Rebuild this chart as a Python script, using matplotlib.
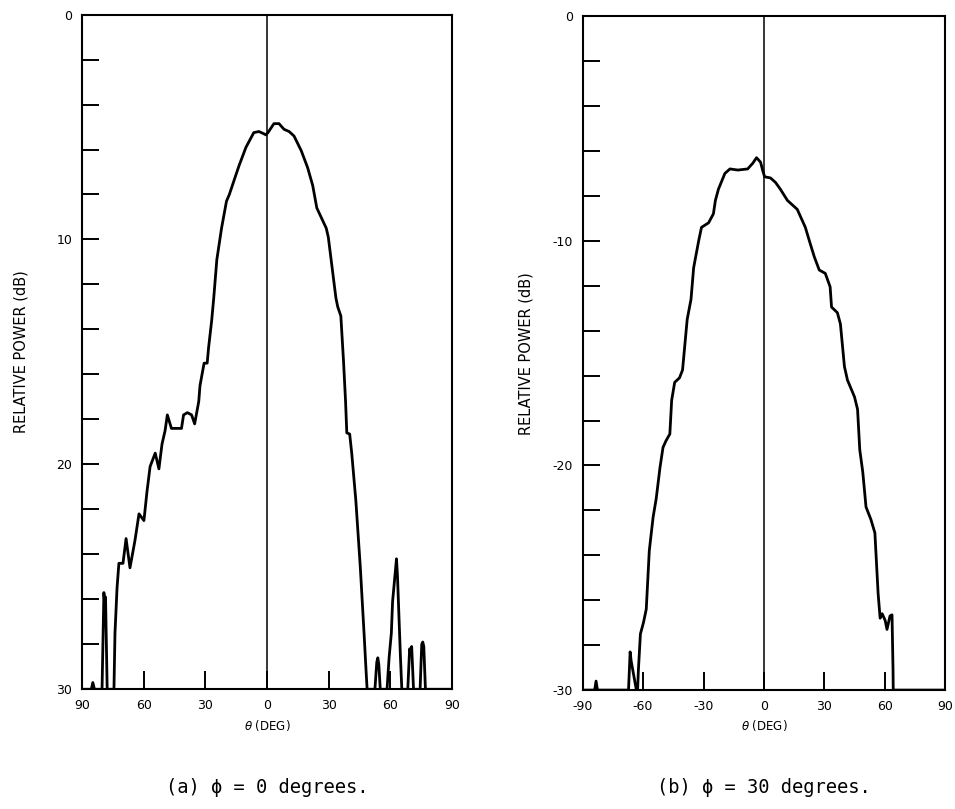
import numpy as np
import matplotlib
matplotlib.use("Agg")
import matplotlib.pyplot as plt
from matplotlib.ticker import FixedLocator, MultipleLocator

# ---------------------------------------------------------------------
# pattern data: theta (deg), level (dB down)
# ---------------------------------------------------------------------
THETA_A = [-90, -85.5, -84.8, -84.0, -80.3, -79.4, -79.0, -78.6, -77.8, -74.5,
           -74.0, -73.0, -72.1, -70.1, -68.6, -66.7, -64.3, -62.3, -59.9, -58.4,
           -56.9, -54.4, -52.6, -51.1, -49.6, -48.5, -46.5, -41.6, -40.6, -38.7,
           -36.7, -35.2, -33.2, -32.6, -30.6, -29.1, -28.4, -26.9, -25.9, -24.4,
           -22.1, -19.7, -18.3, -15.0, -13.5, -10.2, -6.4, -3.9, -1.5, -0.5,
           0.5, 3.4, 5.9, 8.3, 10.8, 13.2, 16.7, 19.8, 22.3, 24.3,
           28.9, 29.9, 33.6, 34.5, 36.0, 37.3, 38.3, 38.9, 40.3, 41.3,
           43.3, 45.5, 47.3, 48.3, 48.8, 52.6, 53.5, 54.0, 54.5, 55.2,
           58.5, 59.5, 60.6, 61.2, 63.1, 63.6, 65.0, 65.7, 68.6, 69.5,
           70.0, 70.5, 71.4, 74.6, 75.4, 75.9, 76.4, 77.2, 90]
LEVEL_A = [30, 30, 29.7, 30, 30, 25.7, 26.2, 25.9, 30, 30,
           27.5, 25.5, 24.4, 24.4, 23.3, 24.6, 23.4, 22.2, 22.5, 21.2,
           20.1, 19.5, 20.2, 19.1, 18.5, 17.8, 18.4, 18.4, 17.8, 17.7,
           17.8, 18.2, 17.2, 16.5, 15.5, 15.5, 14.8, 13.6, 12.6, 10.9,
           9.5, 8.3, 8.0, 7.1, 6.7, 5.9, 5.25, 5.2, 5.3, 5.35,
           5.25, 4.85, 4.85, 5.1, 5.2, 5.4, 6.05, 6.8, 7.6, 8.6,
           9.5, 9.9, 12.6, 13.0, 13.4, 15.4, 17.2, 18.6, 18.65, 19.5,
           21.6, 24.6, 27.5, 29.2, 30, 30, 28.8, 28.6, 28.9, 30,
           30, 28.6, 27.5, 26.1, 24.2, 25.0, 28.5, 30, 30, 28.2,
           28.4, 28.1, 30, 30, 28.0, 27.9, 28.1, 30, 30]

THETA_B = [-90, -84.0, -83.3, -82.6, -67.2, -66.4, -65.9, -63.3, -62.7, -62.3,
           -61.3, -59.8, -58.4, -56.9, -55.0, -53.5, -51.6, -50.1, -48.6, -46.7,
           -45.8, -44.3, -41.9, -40.4, -38.1, -36.2, -34.9, -32.4, -31.0, -27.5,
           -25.1, -24.1, -22.6, -19.4, -16.9, -13.0, -8.1, -5.6, -3.7, -1.7,
           -0.7, 0.3, 3.2, 5.7, 8.1, 11.6, 16.5, 20.5, 22.5, 24.9,
           27.4, 30.4, 32.8, 33.5, 36.4, 37.9, 39.9, 41.4, 44.9, 46.4,
           47.5, 49.0, 50.6, 53.0, 55.0, 56.6, 57.6, 58.6, 60.1, 61.0,
           62.5, 63.5, 64.0, 64.1, 90]
LEVEL_B = [30, 30, 29.6, 30, 30, 28.3, 28.7, 30, 30, 29.1,
           27.5, 27.0, 26.4, 23.8, 22.3, 21.5, 20.1, 19.2, 18.9, 18.6,
           17.1, 16.3, 16.1, 15.75, 13.5, 12.6, 11.2, 10.0, 9.4, 9.2,
           8.8, 8.2, 7.7, 7.0, 6.8, 6.85, 6.8, 6.55, 6.3, 6.5,
           6.85, 7.15, 7.2, 7.4, 7.7, 8.2, 8.6, 9.4, 10.0, 10.7,
           11.3, 11.45, 12.05, 12.95, 13.2, 13.7, 15.6, 16.2, 16.95, 17.5,
           19.3, 20.3, 21.85, 22.4, 23.0, 25.7, 26.8, 26.6, 26.9, 27.3,
           26.7, 26.65, 29.1, 30, 30]

X_TICKS = [-90, -60, -30, 0, 30, 60, 90]
XLABELS_A = ['90', '60', '30', '0', '30', '60', '90']
XLABELS_B = ['-90', '-60', '-30', '0', '30', '60', '90']
Y_TICKS = [0, 10, 20, 30]
YLABELS_A = ['0', '10', '20', '30']
YLABELS_B = ['0', '-10', '-20', '-30']
CAPTIONS = ['(a) \u03d5 = 0 degrees.', '(b) \u03d5 = 30 degrees.']


def draw_pattern(ax, theta, level, xlabels, ylabels, caption, ypad):
    ax.plot(theta, level, color='black', lw=2.0, solid_joinstyle='round')
    ax.axvline(0, color='black', lw=1.1)
    ax.set_xlim(-90, 90)
    ax.set_ylim(30, 0)

    for sp in ax.spines.values():
        sp.set_linewidth(1.5)

    ax.xaxis.set_major_locator(FixedLocator(X_TICKS))
    ax.set_xticklabels(xlabels)
    ax.yaxis.set_major_locator(FixedLocator(Y_TICKS))
    ax.set_yticklabels(ylabels)
    ax.yaxis.set_minor_locator(MultipleLocator(2))

    ax.tick_params(axis='x', which='major', direction='in', length=13,
                   width=1.4, labelsize=9, pad=7)
    ax.tick_params(axis='y', which='both', direction='in', length=12,
                   width=1.4, labelsize=9, pad=7)
    ax.tick_params(axis='x', which='minor', length=0)

    ax.set_ylabel('RELATIVE POWER (dB)', fontsize=10.5, labelpad=ypad)
    ax.set_xlabel(r'$\theta$ (DEG)', fontsize=8.5, labelpad=4)
    ax.text(0.5, -0.145, caption, transform=ax.transAxes, ha='center',
            va='center', fontsize=13.5, family=['DejaVu Sans Mono', 'DejaVu Sans'])


fig = plt.figure(figsize=(9.55, 8.09), dpi=100)
ax_a = fig.add_axes([0.086, 0.148, 0.387, 0.834])
ax_b = fig.add_axes([0.610, 0.147, 0.380, 0.833])

draw_pattern(ax_a, THETA_A, LEVEL_A, XLABELS_A, YLABELS_A, CAPTIONS[0], 20)
draw_pattern(ax_b, THETA_B, LEVEL_B, XLABELS_B, YLABELS_B, CAPTIONS[1], 14)

fig.savefig('out.png', dpi=100)
